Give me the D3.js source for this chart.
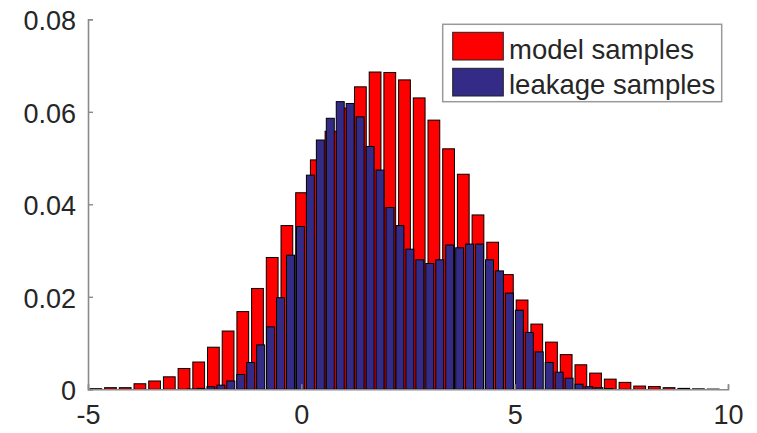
<!DOCTYPE html>
<html>
<head>
<meta charset="utf-8">
<script src="https://cdn.jsdelivr.net/npm/d3@7"></script>
<style>
  body { margin: 0; background: #fff; }
  text { font-family: "Liberation Sans", Arial, sans-serif; fill: #262626; }
</style>
</head>
<body>
<svg id="chart" width="757" height="433"></svg>
<script>
// histogram bins: first bin centre and bin width, in data units
const modelStart = -4.817, modelWidth = 0.3445;
const leakStart = -2.586, leakWidth = 0.2332;

// normalised counts
const modelValues = [0.00013, 0.00035, 0.00035, 0.0012, 0.0018, 0.0027, 0.0045, 0.0059,
    0.0091, 0.0126, 0.0168, 0.0218, 0.0285, 0.0354, 0.0425, 0.0496, 0.0558, 0.0608,
    0.0654, 0.0686, 0.0685, 0.0669, 0.0630, 0.0582, 0.0520, 0.0465, 0.0377, 0.0318,
    0.0248, 0.0193, 0.0141, 0.0102, 0.0075, 0.0053, 0.0035, 0.0022, 0.0015, 0.0007,
    0.0006, 0.00035, 0.0002, 0.0001, 0.00005];
const leakValues = [0.00006, 0.0002, 0.00056, 0.0009, 0.0018, 0.0032, 0.0058, 0.0096,
    0.0135, 0.0198, 0.0290, 0.0352, 0.0463, 0.0539, 0.0586, 0.0622, 0.0618, 0.0589,
    0.0525, 0.0474, 0.0393, 0.0354, 0.0303, 0.0280, 0.0272, 0.0280, 0.0312, 0.0306,
    0.0314, 0.0314, 0.0280, 0.0256, 0.0208, 0.0171, 0.0123, 0.0081, 0.0058, 0.0037,
    0.0024, 0.0011, 0.00056, 0.00035, 0.00017];

const xTicks = [-5, 0, 5, 10];
const yTicks = [0, 0.02, 0.04, 0.06, 0.08];
const seriesNames = ['model samples', 'leakage samples'];
const seriesColors = ['#ff0000', '#332b86'];

const svg = d3.select('#chart');
const x = d3.scaleLinear().domain([-5, 10]).range([88, 728]);
const y = d3.scaleLinear().domain([0, 0.08]).range([389.3, 19.3]);

function drawBars(values, start, width, color) {
    svg.append('g').selectAll('rect')
        .data(values)
        .join('rect')
        .attr('x', (d, i) => x(start + i * width - width * 0.4))
        .attr('width', x(width * 0.8) - x(0))
        .attr('y', d => y(d))
        .attr('height', d => y(0) - y(d))
        .style('fill', color)
        .style('stroke', '#000')
        .style('stroke-width', 1);
}

drawBars(modelValues, modelStart, modelWidth, seriesColors[0]);
drawBars(leakValues, leakStart, leakWidth, seriesColors[1]);

// axes, matlab style: ticks pointing inwards, no box
const axisColor = '#8a8a8a';
const yAxis = svg.append('g').attr('transform', `translate(${x(-5)},0)`)
    .call(d3.axisLeft(y).tickValues(yTicks).tickSize(-5).tickPadding(12)
        .tickFormat(d => d === 0 ? '0' : d3.format('.2f')(d)));
const xAxis = svg.append('g').attr('transform', `translate(0,${y(0)})`)
    .call(d3.axisBottom(x).tickValues(xTicks).tickSize(-5).tickPadding(14)
        .tickFormat(d => String(d)));

[xAxis, yAxis].forEach(g => {
    g.select('.domain').attr('stroke', axisColor).attr('stroke-width', 1.6);
    g.selectAll('.tick line').attr('stroke', axisColor).attr('stroke-width', 1.4);
    g.selectAll('.tick text').style('font-size', '27px').style('fill', '#262626')
        .style('font-family', '"Liberation Sans", Arial, sans-serif');
});
yAxis.selectAll('.tick text').attr('dy', '0.38em');
xAxis.selectAll('.tick text').attr('dy', '0.75em');

// legend
const legend = svg.append('g');
legend.append('rect')
    .attr('x', 442.7).attr('y', 24.3).attr('width', 279).attr('height', 77.4)
    .style('fill', '#fff').style('stroke', '#9a9a9a').style('stroke-width', 1.5);
seriesNames.forEach((name, i) => {
    legend.append('rect')
        .attr('x', 452.7).attr('y', 32.3 + i * 36).attr('width', 50.6).attr('height', 27.7)
        .style('fill', seriesColors[i]).style('stroke', '#222').style('stroke-width', 1);
    legend.append('text')
        .attr('x', 509).attr('y', 59 + i * 35)
        .style('font-size', '27.5px')
        .text(name);
});
</script>
</body>
</html>
